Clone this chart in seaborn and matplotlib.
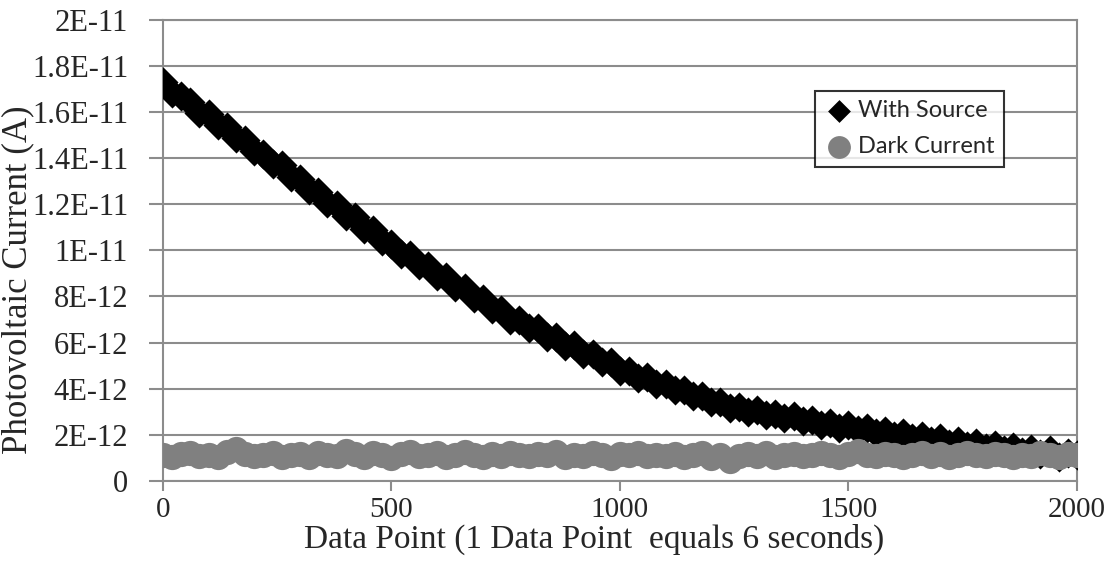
import matplotlib
matplotlib.use('Agg')
from matplotlib import pyplot as plt
import seaborn as sns
import pandas as pd

# data point index (every 20th point)
data_point = list(range(0, 2001, 20))

# photovoltaic current, in units of 1E-12 A
with_source = [
    17.30, 16.85, 16.70, 16.45, 15.98, 15.90, 15.45, 15.35, 14.90, 14.80,
    14.30, 14.20, 13.75, 13.70, 13.20, 13.10, 12.62, 12.55, 12.05, 11.98,
    11.50, 11.45, 10.95, 10.88, 10.40, 10.30, 9.85, 9.82, 9.38, 9.33,
    8.90, 8.86, 8.42, 8.38, 7.92, 7.90, 7.45, 7.42, 6.98, 6.98,
    6.62, 6.62, 6.24, 6.25, 5.86, 5.88, 5.50, 5.52, 5.14, 5.14,
    4.78, 4.78, 4.48, 4.50, 4.20, 4.22, 3.93, 3.96, 3.66, 3.70,
    3.40, 3.44, 3.15, 3.22, 3.00, 3.06, 2.86, 2.92, 2.72, 2.80,
    2.58, 2.66, 2.44, 2.52, 2.30, 2.42, 2.20, 2.28, 2.08, 2.18,
    1.96, 2.06, 1.84, 1.96, 1.72, 1.84, 1.60, 1.72, 1.50, 1.62,
    1.42, 1.54, 1.33, 1.46, 1.25, 1.40, 1.15, 1.32, 1.05, 1.22,
    1.10,
]
dark_current = [
    1.10, 1.05, 1.15, 1.20, 1.08, 1.12, 1.02, 1.25, 1.40, 1.18,
    1.06, 1.14, 1.22, 1.05, 1.10, 1.16, 1.03, 1.20, 1.12, 1.08,
    1.30, 1.15, 1.05, 1.22, 1.10, 1.00, 1.18, 1.26, 1.08, 1.14,
    1.20, 1.04, 1.12, 1.24, 1.10, 1.02, 1.16, 1.08, 1.20, 1.12,
    1.06, 1.18, 1.10, 1.25, 1.04, 1.14, 1.08, 1.20, 1.12, 1.00,
    1.16, 1.10, 1.22, 1.06, 1.14, 1.08, 1.18, 1.02, 1.12, 1.20,
    0.98, 1.10, 0.85, 1.06, 1.16, 1.08, 1.20, 1.04, 1.12, 1.18,
    1.06, 1.14, 1.22, 1.10, 1.04, 1.16, 1.28, 1.12, 1.06, 1.18,
    1.10, 1.02, 1.14, 1.20, 1.08, 1.16, 1.04, 1.12, 1.22, 1.10,
    1.06, 1.18, 1.12, 1.02, 1.14, 1.08, 1.20, 1.10, 1.04, 1.16,
    1.12,
]

y_ticks = [0, 2e-12, 4e-12, 6e-12, 8e-12, 1e-11, 1.2e-11, 1.4e-11, 1.6e-11, 1.8e-11, 2e-11]
y_tick_labels = ['0', '2E-12', '4E-12', '6E-12', '8E-12', '1E-11',
                 '1.2E-11', '1.4E-11', '1.6E-11', '1.8E-11', '2E-11']
x_ticks = [0, 500, 1000, 1500, 2000]


def main():
    df = pd.DataFrame({'point': data_point,
                       'source': [v * 1e-12 for v in with_source],
                       'dark': [v * 1e-12 for v in dark_current]})

    sns.set_style('white')
    plt.rcParams['font.family'] = ['Liberation Serif', 'DejaVu Serif']
    grid_c = '#8c8c8c'

    fig = plt.figure(figsize=(11.16, 5.8), dpi=100)
    axe = fig.add_axes([0.146, 0.171, 0.819, 0.7945])

    sns.scatterplot(data=df, x='point', y='source', ax=axe, marker='D', s=235,
                    color='black', linewidth=0, label='With Source', zorder=3)
    sns.scatterplot(data=df, x='point', y='dark', ax=axe, marker='o', s=330,
                    color='#808080', linewidth=0, label='Dark Current', zorder=4)

    axe.set_xlim(0, 2000)
    axe.set_ylim(0, 2e-11)
    axe.set_yticks(y_ticks)
    axe.set_yticklabels(y_tick_labels)
    axe.set_xticks(x_ticks)
    axe.yaxis.grid(True, color=grid_c, linewidth=1.5)
    axe.xaxis.grid(False)
    axe.set_axisbelow(True)
    for sp in axe.spines.values():
        sp.set_color(grid_c)
        sp.set_linewidth(1.5)
    axe.tick_params(axis='y', which='both', left=True, length=10, width=1.5,
                    color=grid_c, direction='out', labelsize=22, pad=15)
    axe.tick_params(axis='x', which='both', bottom=True, length=7, width=1.5,
                    color=grid_c, direction='out', labelsize=21, pad=5)

    axe.set_xlabel('Data Point (1 Data Point  equals 6 seconds)', size=24, va='center')
    axe.xaxis.set_label_coords(0.472, -0.128)
    axe.set_ylabel('Photovoltaic Current (A)', size=25, va='center')
    axe.yaxis.set_label_coords(-0.159, 0.436)

    leg = axe.legend(loc='upper left', bbox_to_anchor=(0.713, 0.846),
                     frameon=True, fancybox=False,
                     handletextpad=0.15, borderpad=0.4, labelspacing=0.62,
                     handlelength=1.3, borderaxespad=0,
                     prop={'family': ['Lato', 'DejaVu Sans'], 'size': 17})
    handles = leg.legend_handles
    handles[0].set_sizes([135])
    handles[1].set_sizes([270])
    leg.get_frame().set_edgecolor('black')
    leg.get_frame().set_linewidth(1.5)
    leg.set_zorder(10)

    plt.savefig('out.png', dpi=100)


if __name__ == '__main__':
    main()
